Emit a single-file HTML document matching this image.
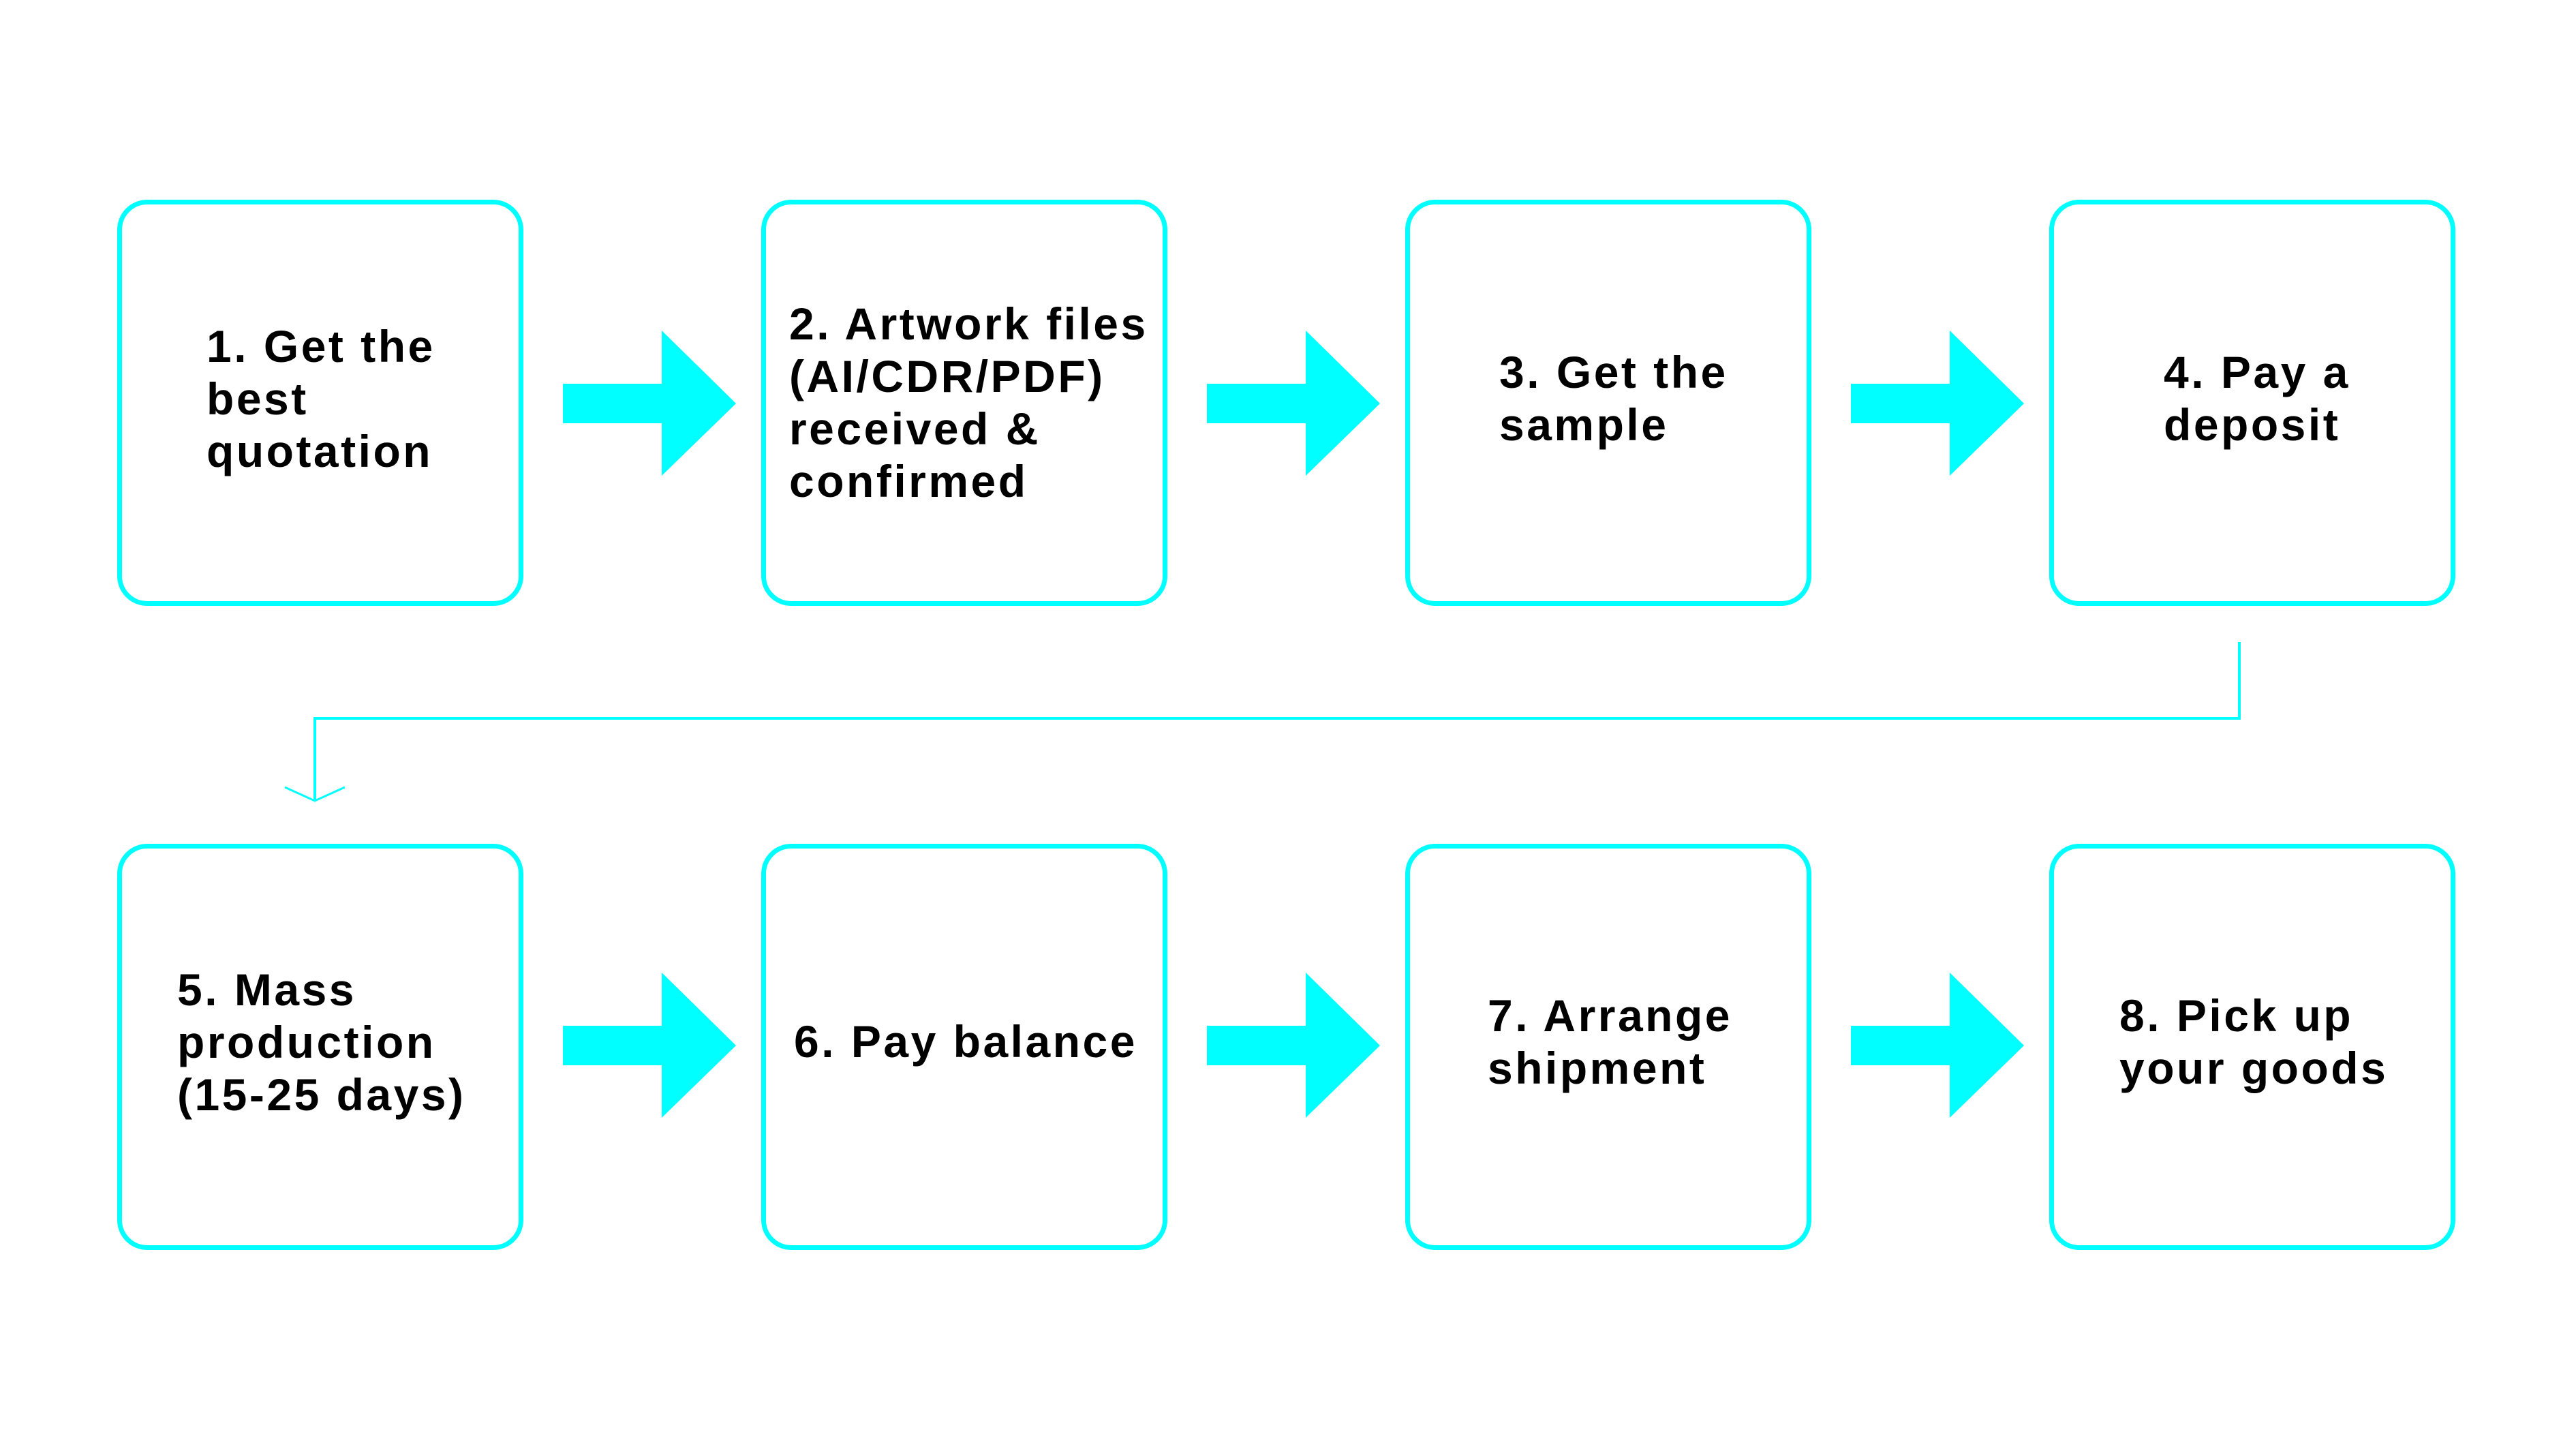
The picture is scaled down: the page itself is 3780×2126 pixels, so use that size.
<!DOCTYPE html>
<html><head><style>
body{margin:0;width:3780px;height:2126px;background:#fff;position:relative;overflow:hidden;font-family:"Liberation Sans",sans-serif}
.b{position:absolute;width:582px;height:582px;border:7px solid #00FFFF;border-radius:44px;box-sizing:content-box}
.t{position:absolute;font-weight:bold;font-size:66px;line-height:77px;letter-spacing:3.5px;color:#000;white-space:nowrap}
svg{position:absolute;left:0;top:0}
</style></head><body>
<div class="b" style="left:172px;top:293px"></div>
<div class="b" style="left:1117px;top:293px"></div>
<div class="b" style="left:2062px;top:293px"></div>
<div class="b" style="left:3007px;top:293px"></div>
<div class="b" style="left:172px;top:1238px"></div>
<div class="b" style="left:1117px;top:1238px"></div>
<div class="b" style="left:2062px;top:1238px"></div>
<div class="b" style="left:3007px;top:1238px"></div>
<svg width="3780" height="2126">
<g fill="#00FFFF">
<polygon points="826,563 971,563 971,485 1080,592 971,698 971,621 826,621"/>
<polygon points="1771,563 1916,563 1916,485 2025,592 1916,698 1916,621 1771,621"/>
<polygon points="2716,563 2861,563 2861,485 2970,592 2861,698 2861,621 2716,621"/>
<polygon points="826,1505 971,1505 971,1427 1080,1534 971,1640 971,1563 826,1563"/>
<polygon points="1771,1505 1916,1505 1916,1427 2025,1534 1916,1640 1916,1563 1771,1563"/>
<polygon points="2716,1505 2861,1505 2861,1427 2970,1534 2861,1640 2861,1563 2716,1563"/>
</g>
<polyline points="3286,942 3286,1054 462,1054 462,1175" fill="none" stroke="#00FFFF" stroke-width="4"/>
<polyline points="418,1155 462,1175 506,1155" fill="none" stroke="#00FFFF" stroke-width="3"/>
</svg>
<div class="t" style="left:303px;top:470px">1. Get the<br>best<br>quotation</div>
<div class="t" style="left:1158px;top:437px">2. Artwork files<br>(AI/CDR/PDF)<br>received &amp;<br>confirmed</div>
<div class="t" style="left:2200px;top:508px">3. Get the<br>sample</div>
<div class="t" style="left:3175px;top:508px">4. Pay a<br>deposit</div>
<div class="t" style="left:260px;top:1414px">5. Mass<br>production<br>(15-25 days)</div>
<div class="t" style="left:1165px;top:1490px">6. Pay balance</div>
<div class="t" style="left:2183px;top:1452px">7. Arrange<br>shipment</div>
<div class="t" style="left:3110px;top:1452px">8. Pick up<br>your goods</div>
</body></html>
